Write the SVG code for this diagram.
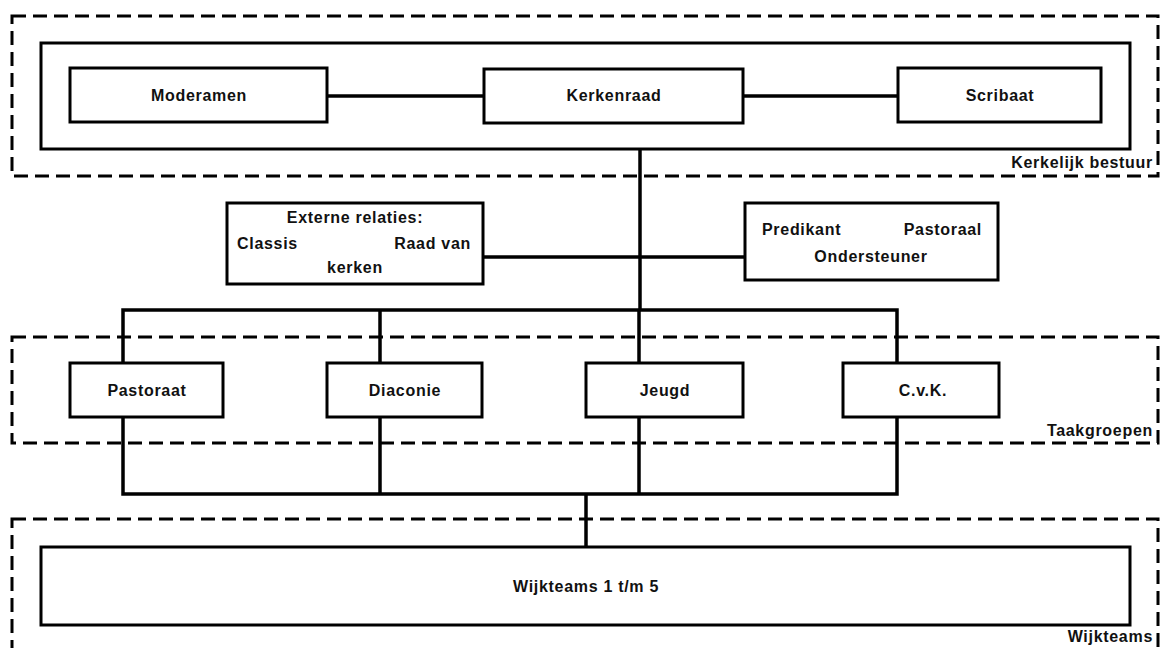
<svg xmlns="http://www.w3.org/2000/svg" width="1160" height="648" viewBox="0 0 1160 648">
<style>
.zone{fill:none;stroke:#000;stroke-width:3;stroke-dasharray:14 7}
.box{fill:#fff;stroke:#000;stroke-width:3}
.frame{fill:none;stroke:#000;stroke-width:3}
.ln{stroke:#000;stroke-width:3.5;fill:none}
text{font-family:"Liberation Sans",Arial,sans-serif;font-weight:bold;font-size:16px;fill:#111;letter-spacing:0.7px}
.c{text-anchor:middle}
.r{text-anchor:end}
</style>
<rect width="1160" height="648" fill="#fff"/>
<g id="zone-kerkelijk-bestuur">
<rect class="zone" x="12" y="16" width="1146" height="160"/>
<rect class="frame" x="41" y="43" width="1089" height="106"/>
<text class="r" x="1153" y="168">Kerkelijk bestuur</text>
</g>
<g id="zone-taakgroepen">
<rect class="zone" x="12" y="337" width="1146" height="106"/>
<text class="r" x="1153" y="436">Taakgroepen</text>
</g>
<g id="zone-wijkteams">
<rect class="zone" x="12" y="519" width="1146" height="150"/>
<text class="r" x="1153" y="642">Wijkteams</text>
</g>
<g id="connectors">
<line class="ln" x1="327" y1="96" x2="484" y2="96"/>
<line class="ln" x1="743" y1="96" x2="898" y2="96"/>
<line class="ln" x1="640" y1="149" x2="640" y2="310" stroke-width="4.5"/>
<line class="ln" x1="483" y1="257" x2="745" y2="257"/>
<path class="ln" d="M123 363V310H897V363M380 310V363M639 310V363"/>
<path class="ln" d="M123 417V494H897V417M380 417V494M639 417V494"/>
<line class="ln" x1="586" y1="494" x2="586" y2="547" stroke-width="4"/>
</g>
<g id="moderamen">
<rect class="box" x="70" y="68" width="257" height="54"/>
<text class="c" x="199" y="101">Moderamen</text>
</g>
<g id="kerkenraad">
<rect class="box" x="484" y="69" width="259" height="54"/>
<text class="c" x="614" y="101">Kerkenraad</text>
</g>
<g id="scribaat">
<rect class="box" x="898" y="68" width="203" height="54"/>
<text class="c" x="1000" y="101">Scribaat</text>
</g>
<g id="externe-relaties">
<rect class="box" x="227" y="203" width="256" height="81"/>
<text class="c" x="355" y="223">Externe relaties:</text>
<text x="237" y="249">Classis</text>
<text class="r" x="471" y="249">Raad van</text>
<text class="c" x="355" y="273">kerken</text>
</g>
<g id="predikant">
<rect class="box" x="745" y="203" width="253" height="77"/>
<text x="762" y="235">Predikant</text>
<text class="r" x="982" y="235">Pastoraal</text>
<text class="c" x="871" y="262">Ondersteuner</text>
</g>
<g id="pastoraat">
<rect class="box" x="70" y="363" width="153" height="54"/>
<text class="c" x="147" y="396">Pastoraat</text>
</g>
<g id="diaconie">
<rect class="box" x="327" y="363" width="155" height="54"/>
<text class="c" x="405" y="396">Diaconie</text>
</g>
<g id="jeugd">
<rect class="box" x="586" y="363" width="157" height="54"/>
<text class="c" x="665" y="396">Jeugd</text>
</g>
<g id="cvk">
<rect class="box" x="843" y="363" width="156" height="54"/>
<text class="c" x="923" y="396">C.v.K.</text>
</g>
<g id="wijkteams-1-5">
<rect class="box" x="41" y="547" width="1089" height="78"/>
<text class="c" x="586" y="592">Wijkteams 1 t/m 5</text>
</g>
</svg>
